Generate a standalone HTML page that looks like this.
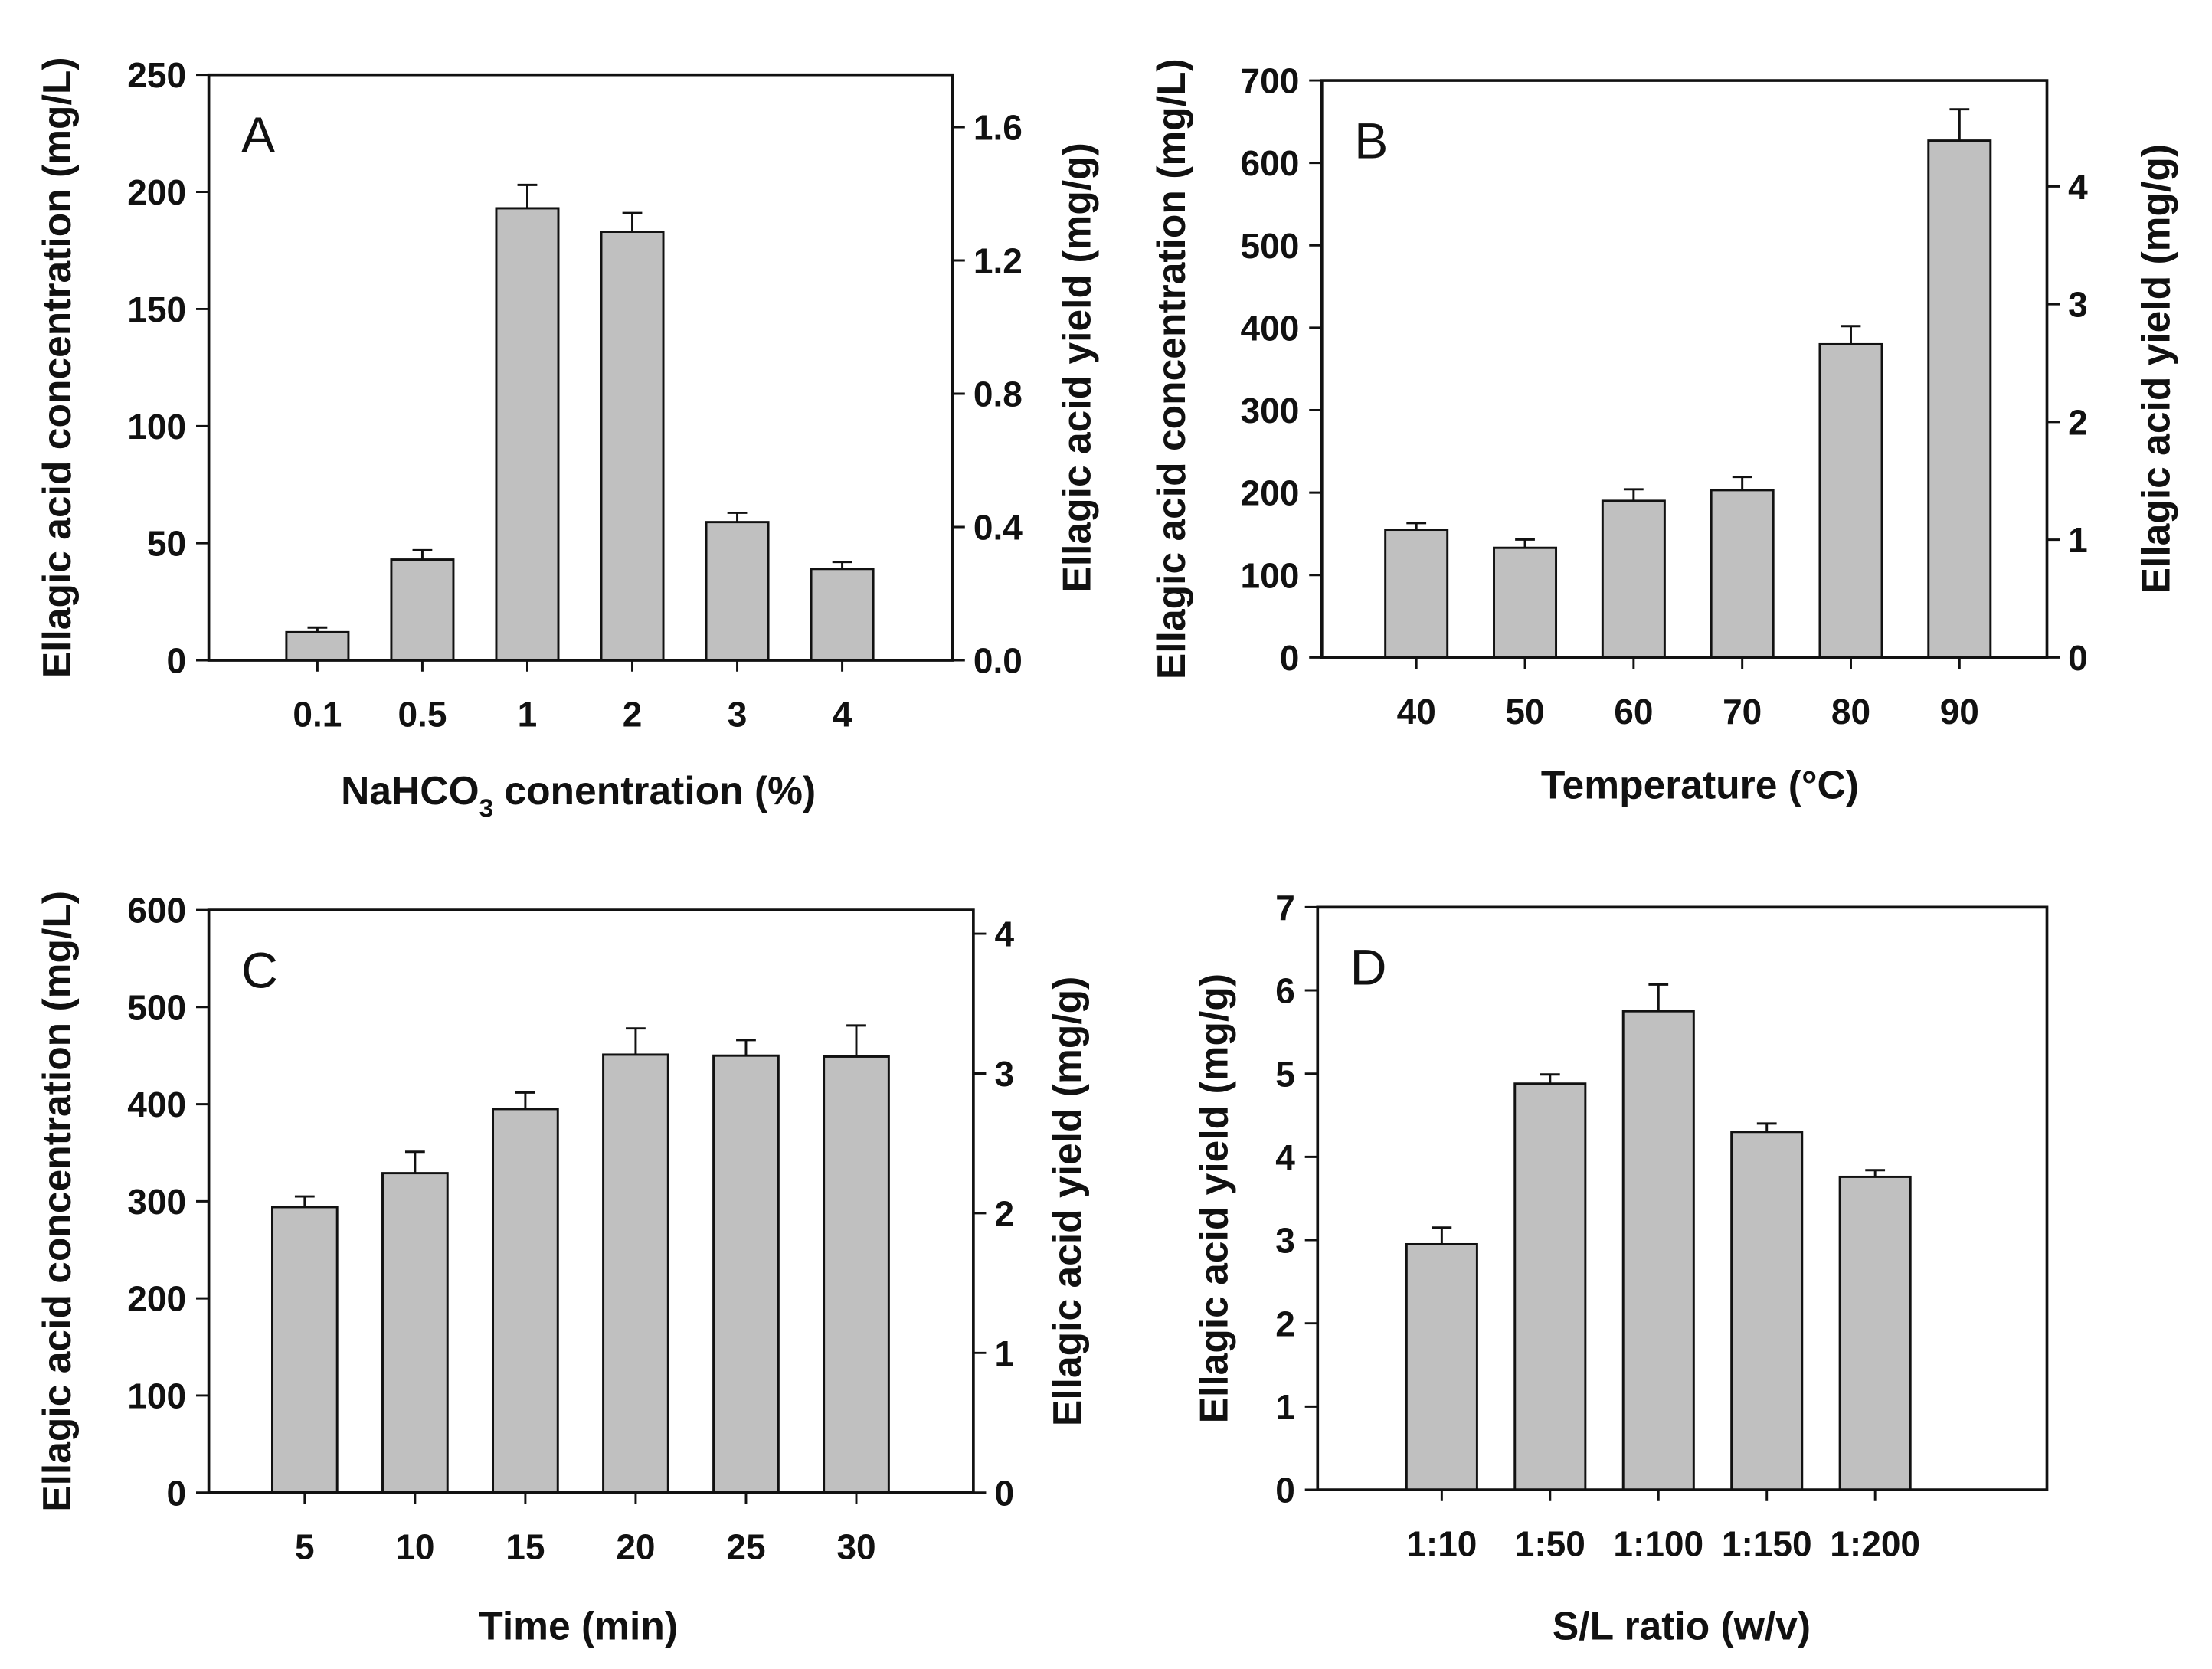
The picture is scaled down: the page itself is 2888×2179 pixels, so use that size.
<!DOCTYPE html>
<html><head><meta charset="utf-8"><style>
html,body{margin:0;padding:0;background:#fff}
svg{display:block}
text{font-family:"Liberation Sans",Arial,sans-serif;fill:#111}
.tick{font-size:25px;font-weight:bold}
.title{font-size:28px;font-weight:bold}
.lab{font-size:36px}
</style></head><body>
<svg id="fig" xmlns="http://www.w3.org/2000/svg" width="2888" height="2179" viewBox="0 0 1568 1183"></svg>
<script>
// Panel A
const aCats = ["0.1","0.5","1","2","3","4"];
const aVals = [12,43,193,183,59,39];
const aErrs = [14,47,203,191,63,42];
const aLeftTicks = [0,50,100,150,200,250];
const aRightTicks = ["0.0","0.4","0.8","1.2","1.6"];
// Panel B
const bCats = ["40","50","60","70","80","90"];
const bVals = [155,133,190,203,380,627];
const bErrs = [163,143,204,219,402,665];
const bLeftTicks = [0,100,200,300,400,500,600,700];
const bRightTicks = ["0","1","2","3","4"];
// Panel C
const cCats = ["5","10","15","20","25","30"];
const cVals = [294,329,395,451,450,449];
const cErrs = [305,351,412,478,466,481];
const cLeftTicks = [0,100,200,300,400,500,600];
const cRightTicks = ["0","1","2","3","4"];
// Panel D
const dCats = ["1:10","1:50","1:100","1:150","1:200"];
const dVals = [2.95,4.88,5.75,4.3,3.76];
const dErrs = [3.15,4.99,6.07,4.4,3.84];
const dLeftTicks = [0,1,2,3,4,5,6,7];

const NS="http://www.w3.org/2000/svg";
const svg=document.getElementById('fig');
function mk(tag,attrs,parent,txt){const e=document.createElementNS(NS,tag);for(const k in attrs)e.setAttribute(k,attrs[k]);if(txt!==undefined)e.textContent=txt;(parent||svg).appendChild(e);return e;}

function panel(o){
  const g=mk('g',{});
  
  
  const y=v=>o.bot-(v-o.lmin)/(o.lmax-o.lmin)*(o.bot-o.top);
  const xc=i=>o.c0+i*o.cs;
  o.vals.forEach((v,i)=>{
    const r=mk('rect',{x:xc(i)-o.bw/2,y:y(v),width:o.bw,height:o.bot-y(v),fill:'#c0c0c0',stroke:'#111','stroke-width':1.6},g);
    
    
    const e=mk('path',{d:`M${xc(i)} ${y(v)}V${y(o.errs[i])}M${xc(i)-7} ${y(o.errs[i])}H${xc(i)+7}`,stroke:'#111','stroke-width':1.6,fill:'none'},g);
    
    
    mk('path',{d:`M${xc(i)} ${o.bot}v8`,stroke:'#111','stroke-width':1.6},g);
    const tl=mk('text',{x:xc(i),y:o.bot+47,'text-anchor':'middle',class:'tick'},g,o.cats[i]);
    
    
  });
  const fr=mk('path',{d:`M${o.x0} ${o.top}V${o.bot}H${o.x1}V${o.top}Z`,stroke:'#111','stroke-width':2,fill:'none'},g);
  
  
  o.lticks.forEach(v=>{
    mk('path',{d:`M${o.x0} ${y(v)}h-9`,stroke:'#111','stroke-width':1.6},g);
    const t=mk('text',{x:o.x0-16,y:y(v)+9,'text-anchor':'end',class:'tick'},g,String(v));
    
    
  });
  if(o.right){
    const yr=v=>o.bot-v/o.rmax*(o.bot-o.top);
    o.right.forEach(s=>{
      const v=parseFloat(s);
      mk('path',{d:`M${o.x1} ${yr(v)}h9`,stroke:'#111','stroke-width':1.6},g);
      const t=mk('text',{x:o.x1+15,y:yr(v)+9,'text-anchor':'start',class:'tick'},g,s);
      
      
    });
    const rt=mk('text',{transform:`translate(${o.rtx},${(o.top+o.bot)/2}) rotate(-90)`,'text-anchor':'middle',class:'title'},g,'Ellagic acid yield (mg/g)');
    
    
  }
  const lt=mk('text',{transform:`translate(${o.ltx},${(o.top+o.bot)/2}) rotate(-90)`,'text-anchor':'middle',class:'title'},g,o.ltitle);
  
  
  const xt=mk('text',{x:o.xtx,y:o.xty,'text-anchor':'middle',class:'title'},g);
  
  
  if(o.id==='a'){
    mk('tspan',{},xt,'NaHCO');
    mk('tspan',{dy:9,'font-size':18},xt,'3');
    mk('tspan',{dy:-9},xt,' conentration (%)');
  } else xt.textContent=o.xtitle;
  const pl=mk('text',{x:o.x0+23,y:o.top+55,class:'lab'},g,o.id.toUpperCase());
  
  
}
const CT='Ellagic acid concentration (mg/L)';
panel({id:'a',cats:aCats,vals:aVals,errs:aErrs,lticks:aLeftTicks,lmin:0,lmax:250,right:aRightTicks,rmax:1.757,
  x0:148,x1:675,top:53,bot:468,c0:225,cs:74.4,bw:44,ltx:50,rtx:773,ltitle:CT,xtx:410,xty:570});
panel({id:'b',cats:bCats,vals:bVals,errs:bErrs,lticks:bLeftTicks,lmin:0,lmax:700,right:bRightTicks,rmax:4.9,
  x0:937,x1:1451,top:57,bot:466,c0:1004,cs:77,bw:44,ltx:840,rtx:1538,ltitle:CT,xtitle:'Temperature (°C)',xtx:1205,xty:566});
panel({id:'c',cats:cCats,vals:cVals,errs:cErrs,lticks:cLeftTicks,lmin:0,lmax:600,right:cRightTicks,rmax:4.17,
  x0:148,x1:690,top:645,bot:1058,c0:216,cs:78.2,bw:46,ltx:50,rtx:766,ltitle:CT,xtitle:'Time (min)',xtx:410,xty:1162});
panel({id:'d',cats:dCats,vals:dVals,errs:dErrs,lticks:dLeftTicks,lmin:0,lmax:7,
  x0:934,x1:1451,top:643,bot:1056,c0:1022,cs:76.8,bw:50,ltx:870,ltitle:'Ellagic acid yield (mg/g)',xtitle:'S/L ratio (w/v)',xtx:1192,xty:1162});
</script>
</body></html>
